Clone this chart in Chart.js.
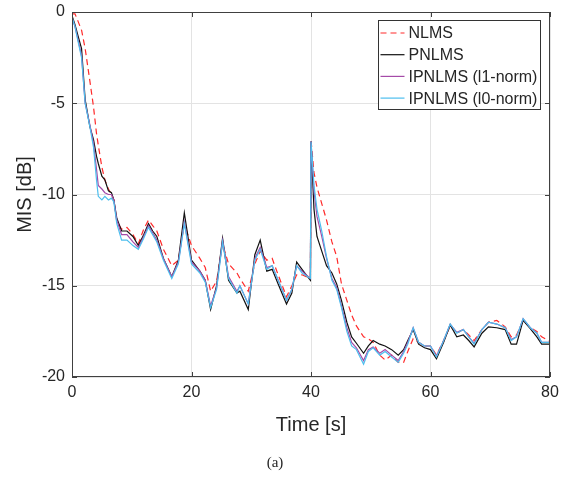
<!DOCTYPE html>
<html>
<head>
<meta charset="utf-8">
<script src="https://cdn.jsdelivr.net/npm/chart.js@4.4.0/dist/chart.umd.min.js"></script>
<style>
  html, body { margin: 0; padding: 0; background: #fff; }
  #wrap { width: 568px; height: 478px; }
</style>
</head>
<body>
<div id="wrap"><canvas id="misChart"></canvas></div>
<script>
// Time axis (seconds) shared by all curves
const timeSec = [0, 0.5, 1, 1.6, 2.2, 3, 3.6, 4.1, 4.4, 5, 5.5, 6.1, 6.6, 7, 7.5, 8.3, 9.2, 10.2, 11.1, 12,
    12.8, 13.5, 14.2, 15.3, 16.7, 17.8, 18.8, 20, 21.4, 22.3, 23.2, 24.2, 25.2, 26.2, 27.6, 28.1, 29.5, 30.6,
    31.5, 32.6, 33.5, 34.5, 35.9, 36.8, 37.6, 38.5, 39.9, 40, 40.5, 41, 41.8, 42.6, 43.5, 44.3, 45.1, 46, 46.8,
    47.6, 48.8, 49.6, 50.4, 51.5, 52.4, 53.5, 54.6, 55.5, 56.2, 57.1, 58, 59, 60, 61, 62.2, 63.3, 64.4, 65.5,
    66.4, 67.3, 68.6, 69.7, 71.1, 72.5, 73.5, 74.4, 75.5, 76.7, 77.8, 78.6, 80];

// MIS values in dB, one array per algorithm
const misNlms = [-0.1, -0.1, -0.5, -1.0, -2.0, -3.8, -5.2, -6.65, -7.3, -8.5, -9.2, -9.7, -10.0, -10.3, -11.5, -11.9, -11.8, -12.2, -12.7, -11.9,
    -11.4, -11.7, -12.0, -13.0, -13.9, -13.6, -11.6, -12.8, -13.5, -14.0, -15.3, -14.75, -12.7, -13.8, -14.3, -14.6, -15.3, -13.8,
    -13.1, -13.6, -13.5, -14.4, -15.6, -15.0, -14.4, -14.4, -14.6, -7.0, -8.8, -9.6, -10.5, -11.4, -12.6, -13.4, -14.9, -15.8, -16.6,
    -17.2, -17.8, -17.9, -18.1, -18.8, -19.07, -18.8, -19.2, -19.2, -18.6, -17.9, -18.1, -18.3, -18.3, -18.8, -18.0, -17.2, -17.6, -17.4,
    -17.7, -18.0, -17.4, -17.0, -16.9, -17.25, -17.8, -17.7, -16.9, -17.3, -17.5, -17.8, -18.05];

const misPnlms = [-0.2, -0.7, -1.3, -2.0, -4.8, -6.3, -7.0, -7.9, -8.3, -9.0, -9.2, -9.8, -9.9, -10.3, -11.3, -12.0, -12.0, -12.3, -12.8, -12.2,
    -11.6, -12.0, -12.3, -13.5, -14.5, -13.6, -11.0, -13.6, -14.2, -14.7, -16.3, -15.0, -12.4, -14.7, -15.4, -15.3, -16.3, -13.3,
    -12.5, -14.2, -14.1, -14.9, -16.0, -15.4, -13.7, -14.1, -14.7, -7.1, -10.8, -12.3, -13.1, -13.9, -14.3, -14.9, -15.8, -17.0, -17.8,
    -18.15, -18.7, -18.3, -18.0, -18.2, -18.3, -18.5, -18.8, -18.5, -18.0, -17.4, -18.2, -18.4, -18.5, -19.0, -18.1, -17.15, -17.8, -17.7,
    -18.0, -18.35, -17.6, -17.25, -17.3, -17.4, -18.2, -18.2, -16.9, -17.35, -17.8, -18.2, -18.2];

const misIpnlmsL1 = [-0.3, -0.8, -1.5, -2.4, -5.0, -6.2, -7.2, -8.6, -9.5, -9.7, -9.9, -10.0, -10.0, -10.3, -11.4, -12.2, -12.2, -12.6, -12.9, -12.3,
    -11.7, -12.1, -12.5, -13.5, -14.5, -13.7, -11.5, -13.7, -14.2, -14.7, -16.1, -15.1, -12.5, -14.5, -15.3, -15.0, -16.0, -13.5,
    -12.9, -14.0, -13.9, -14.7, -15.8, -15.2, -13.9, -14.2, -14.6, -7.1, -9.8, -11.2, -12.3, -13.5, -14.6, -15.1, -16.1, -17.3, -18.1,
    -18.4, -19.1, -18.5, -18.35, -18.7, -18.5, -18.8, -19.1, -18.6, -18.1, -17.3, -18.1, -18.3, -18.3, -18.85, -18.0, -17.1, -17.55, -17.4,
    -17.8, -18.15, -17.4, -17.0, -17.1, -17.3, -17.95, -17.8, -16.8, -17.3, -17.6, -18.1, -18.1];

const misIpnlmsL0 = [-0.3, -0.8, -1.6, -2.5, -5.0, -6.3, -7.4, -9.2, -10.1, -10.3, -10.1, -10.3, -10.2, -10.4, -11.6, -12.5, -12.5, -12.8, -13.0, -12.4,
    -11.8, -12.2, -12.6, -13.6, -14.6, -13.8, -11.6, -13.8, -14.3, -14.8, -16.2, -15.2, -12.6, -14.6, -15.4, -15.0, -16.0, -13.6,
    -13.0, -14.1, -13.9, -14.7, -15.8, -15.2, -13.9, -14.3, -14.6, -7.1, -9.5, -10.8, -12.0, -13.4, -14.7, -15.2, -16.2, -17.5, -18.3,
    -18.5, -19.3, -18.6, -18.4, -18.8, -18.6, -18.9, -19.2, -18.7, -18.2, -17.3, -18.1, -18.3, -18.3, -18.9, -18.0, -17.1, -17.6, -17.4,
    -17.8, -18.2, -17.4, -17.0, -17.1, -17.3, -18.0, -17.8, -16.8, -17.3, -17.6, -18.1, -18.1];

const seriesNames = ['NLMS', 'PNLMS', 'IPNLMS (l1-norm)', 'IPNLMS (l0-norm)'];
const xTicks = [0, 20, 40, 60, 80];
const yTicks = [-20, -15, -10, -5, 0];

const axisColor = '#404040';
const textColor = '#262626';

function toPoints(values) {
    return timeSec.map((t, i) => ({ x: t, y: values[i] }));
}

// MATLAB-style box with inward ticks, plus a legend inside the axes
const boxPlugin = {
    id: 'boxPlugin',
    afterDraw(chart) {
        const ctx = chart.ctx;
        const area = chart.chartArea;
        const xs = chart.scales.x;
        const ys = chart.scales.y;
        const tickLen = 5;

        ctx.save();
        ctx.strokeStyle = axisColor;
        ctx.lineWidth = 1;
        ctx.beginPath();
        xTicks.forEach(v => {
            const px = Math.round(xs.getPixelForValue(v)) + 0.5;
            ctx.moveTo(px, area.bottom);
            ctx.lineTo(px, area.bottom - tickLen);
            ctx.moveTo(px, area.top);
            ctx.lineTo(px, area.top + tickLen);
        });
        yTicks.forEach(v => {
            const py = Math.round(ys.getPixelForValue(v)) + 0.5;
            ctx.moveTo(area.left, py);
            ctx.lineTo(area.left + tickLen, py);
            ctx.moveTo(area.right, py);
            ctx.lineTo(area.right - tickLen, py);
        });
        ctx.stroke();
        ctx.strokeRect(Math.round(area.left) + 0.5, Math.round(area.top) + 0.5,
            Math.round(area.width) - 1, Math.round(area.height) - 1);

        // legend
        ctx.font = '16px "Liberation Sans", Arial, sans-serif';
        let textW = 0;
        seriesNames.forEach(n => { textW = Math.max(textW, ctx.measureText(n).width); });
        const rowH = 21.7;
        const boxW = Math.round(textW + 33);
        const boxH = Math.round(rowH * seriesNames.length + 2);
        const bx = Math.round(area.right - 10 - boxW) + 0.5;
        const by = Math.round(area.top + 8) + 0.5;
        ctx.fillStyle = '#ffffff';
        ctx.fillRect(bx, by, boxW, boxH);
        ctx.strokeStyle = '#333333';
        ctx.strokeRect(bx, by, boxW, boxH);

        chart.data.datasets.forEach((ds, i) => {
            const cy = by + 12.5 + i * rowH;
            ctx.beginPath();
            ctx.strokeStyle = ds.borderColor;
            ctx.lineWidth = 1.2;
            ctx.setLineDash(ds.borderDash || []);
            ctx.moveTo(bx + 2, cy);
            ctx.lineTo(bx + 26, cy);
            ctx.stroke();
            ctx.setLineDash([]);
            ctx.fillStyle = textColor;
            ctx.textBaseline = 'middle';
            ctx.textAlign = 'left';
            ctx.fillText(ds.label, bx + 30, cy + 1);
        });
        ctx.restore();
    }
};

new Chart(document.getElementById('misChart'), {
    type: 'line',
    data: {
        datasets: [
            { label: seriesNames[0], data: toPoints(misNlms), borderColor: '#ff2a2a', borderDash: [6, 4], order: 4 },
            { label: seriesNames[1], data: toPoints(misPnlms), borderColor: '#111111', order: 3 },
            { label: seriesNames[2], data: toPoints(misIpnlmsL1), borderColor: '#a54aa8', order: 2 },
            { label: seriesNames[3], data: toPoints(misIpnlmsL0), borderColor: '#4dbeee', order: 1 }
        ]
    },
    options: {
        responsive: true,
        maintainAspectRatio: false,
        animation: false,
        layout: { padding: { top: 12, right: 18, left: 0, bottom: 0 } },
        elements: {
            point: { radius: 0 },
            line: { borderWidth: 1.2, tension: 0 }
        },
        plugins: {
            legend: { display: false },
            tooltip: { enabled: false },
            subtitle: {
                display: true,
                position: 'bottom',
                text: '(a)',
                color: textColor,
                font: { family: '"Liberation Serif", "Times New Roman", serif', size: 15 },
                padding: { top: 17, bottom: 6 }
            }
        },
        scales: {
            x: {
                type: 'linear',
                min: 0,
                max: 80,
                afterFit(scale) { scale.height = 60; },
                afterBuildTicks(scale) { scale.ticks = xTicks.map(v => ({ value: v })); },
                ticks: {
                    color: textColor,
                    padding: 6,
                    maxRotation: 0,
                    font: { family: '"Liberation Sans", Arial, sans-serif', size: 16 }
                },
                grid: { color: '#e3e3e3', drawTicks: false },
                border: { display: false },
                title: {
                    display: true,
                    text: 'Time [s]',
                    color: textColor,
                    font: { family: '"Liberation Sans", Arial, sans-serif', size: 20 },
                    padding: { top: 0, bottom: 0 }
                }
            },
            y: {
                type: 'linear',
                min: -20,
                max: 0,
                afterFit(scale) {
                    scale.width = 72;
                    scale.paddingTop = 0;
                    scale.paddingBottom = 0;
                },
                afterBuildTicks(scale) { scale.ticks = yTicks.map(v => ({ value: v })); },
                ticks: {
                    color: textColor,
                    padding: 7,
                    font: { family: '"Liberation Sans", Arial, sans-serif', size: 16 }
                },
                grid: { color: '#e3e3e3', drawTicks: false },
                border: { display: false },
                title: {
                    display: true,
                    text: 'MIS [dB]',
                    color: textColor,
                    font: { family: '"Liberation Sans", Arial, sans-serif', size: 20 },
                    padding: { top: 13, bottom: 0 }
                }
            }
        }
    },
    plugins: [boxPlugin]
});
</script>
</body>
</html>
